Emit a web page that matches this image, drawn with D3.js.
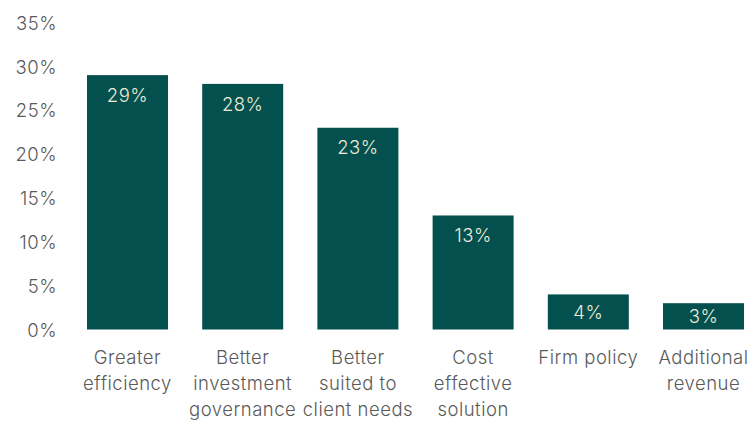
<!DOCTYPE html>
<html>
<head>
<meta charset="utf-8">
<script src="https://cdn.jsdelivr.net/npm/d3@7"></script>
<style>
  html, body { margin: 0; padding: 0; background: #ffffff; }
  svg text { font-family: "Inter", "Noto Sans", sans-serif; font-weight: 300; letter-spacing: 0.5px; }
</style>
</head>
<body>
<svg id="chart" width="752" height="422"></svg>
<script>
// Reasons cited, share of respondents (%)
const categories = [
  ["Greater", "efficiency"],
  ["Better", "investment", "governance"],
  ["Better", "suited to", "client needs"],
  ["Cost", "effective", "solution"],
  ["Firm policy"],
  ["Additional", "revenue"]
];
const values = [29, 28, 23, 13, 4, 3];
const yTicks = [0, 5, 10, 15, 20, 25, 30, 35];

const svg = d3.select("#chart");
const keys = categories.map(c => c.join(" "));

const x = d3.scaleBand()
  .domain(keys)
  .range([87, 744])
  .paddingInner(0.297)
  .paddingOuter(0);

const y = d3.scaleLinear()
  .domain([0, 35])
  .range([329.5, 22.5]);

// Y axis: labels only, no line or ticks
const yAxis = svg.append("g")
  .attr("transform", "translate(57,0)")
  .call(d3.axisLeft(y).tickValues(yTicks).tickFormat(d => d + "%").tickSize(0).tickPadding(0));
yAxis.select(".domain").remove();
yAxis.selectAll("text")
  .attr("fill", "#5a5a5a")
  .attr("dy", "0.36em")
  .style("font-size", "18.5px")
  .style("font-family", "Inter, 'Noto Sans', sans-serif");

// Bars
svg.append("g").selectAll("rect")
  .data(values)
  .join("rect")
  .attr("x", (d, i) => x(keys[i]))
  .attr("y", d => y(d))
  .attr("width", x.bandwidth())
  .attr("height", d => y(0) - y(d))
  .attr("fill", "#03504f");

// Value labels inside bars: near the top, or centred when the bar is short
svg.append("g").selectAll("text")
  .data(values)
  .join("text")
  .attr("x", (d, i) => x(keys[i]) + x.bandwidth() / 2)
  .attr("y", d => Math.min(y(d) + 20, (y(d) + y(0)) / 2))
  .attr("dy", "0.36em")
  .attr("text-anchor", "middle")
  .attr("fill", "#ecebd6")
  .style("font-size", "18.5px")
  .text(d => d + "%");

// Category labels, wrapped over several lines
const catG = svg.append("g").selectAll("text")
  .data(categories)
  .join("text")
  .attr("text-anchor", "middle")
  .attr("fill", "#5a5a5a")
  .style("font-size", "18.5px")
  .attr("transform", (d, i) => `translate(${x(keys[i]) + x.bandwidth() / 2},364)`);
catG.selectAll("tspan")
  .data(d => d)
  .join("tspan")
  .attr("x", 0)
  .attr("y", (d, i) => i * 26)
  .text(d => d);
</script>
</body>
</html>
